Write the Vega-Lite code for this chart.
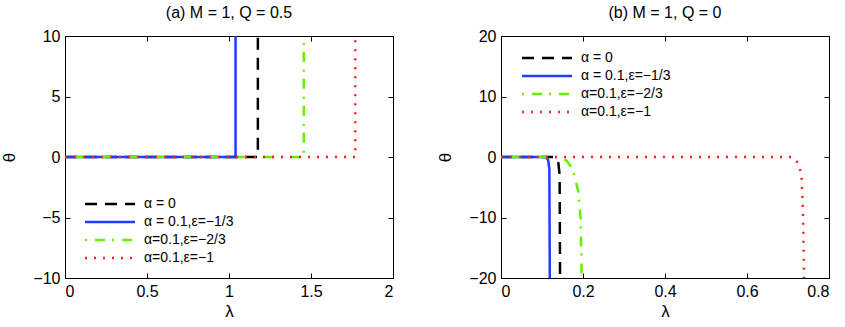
{
  "$schema": "https://vega.github.io/schema/vega-lite/v6.json",
  "padding": {"left": 0, "top": 4, "right": 0, "bottom": 5},
  "config": {
    "font": "Liberation Sans",
    "view": {"stroke": "black", "strokeWidth": 1},
    "axis": {"grid": false, "domain": false, "tickSize": -5, "tickColor": "black", "labelFontSize": 16, "labelColor": "black", "titleFontSize": 17, "titleFontWeight": "normal", "titleColor": "black", "labelFont": "Liberation Sans", "titleFont": "Liberation Sans", "labelPadding": 10, "format": "~r"},
    "title": {"fontSize": 16, "fontWeight": "normal", "font": "Liberation Sans", "color": "black", "offset": 7},
    "legend": {"symbolType": "M-5,0H5", "symbolSize": 100, "symbolStrokeWidth": 2.5, "labelFontSize": 14, "labelFont": "Liberation Sans", "labelColor": "black", "rowPadding": 4, "labelOffset": 27, "title": null}
  },
  "datasets": {
    "a": [
      {"s": "α = 0", "i": 0, "x": 0, "y": 0}, {"s": "α = 0", "i": 1, "x": 1.176, "y": 0}, {"s": "α = 0", "i": 2, "x": 1.176, "y": 10},
      {"s": "α = 0.1,ε=−1/3", "i": 0, "x": 0, "y": 0}, {"s": "α = 0.1,ε=−1/3", "i": 1, "x": 1.04, "y": 0}, {"s": "α = 0.1,ε=−1/3", "i": 2, "x": 1.04, "y": 10},
      {"s": "α=0.1,ε=−2/3", "i": 0, "x": 0, "y": 0}, {"s": "α=0.1,ε=−2/3", "i": 1, "x": 1.456, "y": 0}, {"s": "α=0.1,ε=−2/3", "i": 2, "x": 1.456, "y": 10},
      {"s": "α=0.1,ε=−1", "i": 0, "x": 0, "y": 0}, {"s": "α=0.1,ε=−1", "i": 1, "x": 1.77, "y": 0}, {"s": "α=0.1,ε=−1", "i": 2, "x": 1.77, "y": 10}
    ],
    "b": [
      {"s": "α = 0", "i": 0, "x": 0, "y": 0}, {"s": "α = 0", "i": 1, "x": 0.132, "y": 0}, {"s": "α = 0", "i": 2, "x": 0.14, "y": -1}, {"s": "α = 0", "i": 3, "x": 0.143, "y": -3}, {"s": "α = 0", "i": 4, "x": 0.144, "y": -20},
      {"s": "α = 0.1,ε=−1/3", "i": 0, "x": 0, "y": 0}, {"s": "α = 0.1,ε=−1/3", "i": 1, "x": 0.108, "y": 0}, {"s": "α = 0.1,ε=−1/3", "i": 2, "x": 0.115, "y": -0.5}, {"s": "α = 0.1,ε=−1/3", "i": 3, "x": 0.118, "y": -2}, {"s": "α = 0.1,ε=−1/3", "i": 4, "x": 0.119, "y": -20},
      {"s": "α=0.1,ε=−2/3", "i": 0, "x": 0, "y": 0}, {"s": "α=0.1,ε=−2/3", "i": 1, "x": 0.14, "y": 0}, {"s": "α=0.1,ε=−2/3", "i": 2, "x": 0.16, "y": -0.6}, {"s": "α=0.1,ε=−2/3", "i": 3, "x": 0.175, "y": -2}, {"s": "α=0.1,ε=−2/3", "i": 4, "x": 0.189, "y": -5.8}, {"s": "α=0.1,ε=−2/3", "i": 5, "x": 0.194, "y": -10}, {"s": "α=0.1,ε=−2/3", "i": 6, "x": 0.197, "y": -20},
      {"s": "α=0.1,ε=−1", "i": 0, "x": 0, "y": 0}, {"s": "α=0.1,ε=−1", "i": 1, "x": 0.71, "y": 0}, {"s": "α=0.1,ε=−1", "i": 2, "x": 0.725, "y": -1}, {"s": "α=0.1,ε=−1", "i": 3, "x": 0.733, "y": -3}, {"s": "α=0.1,ε=−1", "i": 4, "x": 0.737, "y": -10}, {"s": "α=0.1,ε=−1", "i": 5, "x": 0.739, "y": -20}
    ]
  },
  "hconcat": [
    {
      "title": "(a) M = 1, Q = 0.5",
      "width": 328, "height": 242,
      "data": {"name": "a"},
      "layer": [
        {
          "mark": {"type": "line", "strokeWidth": 2.5, "clip": true},
          "encoding": {
            "x": {"field": "x", "type": "quantitative", "title": "λ", "scale": {"domain": [0, 2], "nice": false}, "axis": {"values": [0, 0.5, 1, 1.5, 2]}},
            "y": {"field": "y", "type": "quantitative", "title": "θ", "scale": {"domain": [-10, 10], "nice": false}, "axis": {"values": [-10, -5, 0, 5, 10], "titlePadding": 14}},
            "order": {"field": "i"},
            "color": {"field": "s", "type": "nominal", "scale": {"domain": ["α = 0", "α = 0.1,ε=−1/3", "α=0.1,ε=−2/3", "α=0.1,ε=−1"], "range": ["black", "#1f3cff", "#66f000", "#ff2020"]}, "legend": {"orient": "none", "legendX": 38, "legendY": 161}},
            "strokeDash": {"field": "s", "type": "nominal", "scale": {"domain": ["α = 0", "α = 0.1,ε=−1/3", "α=0.1,ε=−2/3", "α=0.1,ε=−1"], "range": [[12, 8], [1, 0], [2, 8, 10, 7], [2, 7]]}, "legend": {"orient": "none", "legendX": 38, "legendY": 161}}
          }
        },
        {
          "mark": {"type": "line", "opacity": 0},
          "encoding": {
            "x": {"field": "x", "type": "quantitative", "axis": {"orient": "top", "values": [0, 0.5, 1, 1.5, 2], "labels": false, "title": null}},
            "y": {"field": "y", "type": "quantitative", "axis": {"orient": "right", "values": [-10, -5, 0, 5, 10], "labels": false, "title": null}},
            "detail": {"field": "s"},
            "order": {"field": "i"}
          }
        }
      ],
      "resolve": {"axis": {"x": "independent", "y": "independent"}}
    },
    {
      "title": "(b) M = 1, Q = 0",
      "width": 328, "height": 242,
      "data": {"name": "b"},
      "layer": [
        {
          "mark": {"type": "line", "strokeWidth": 2.5, "clip": true},
          "encoding": {
            "x": {"field": "x", "type": "quantitative", "title": "λ", "scale": {"domain": [0, 0.8], "nice": false}, "axis": {"values": [0, 0.2, 0.4, 0.6, 0.8]}},
            "y": {"field": "y", "type": "quantitative", "title": "θ", "scale": {"domain": [-20, 20], "nice": false}, "axis": {"values": [-20, -10, 0, 10, 20], "titlePadding": 14}},
            "order": {"field": "i"},
            "color": {"field": "s", "type": "nominal", "scale": {"domain": ["α = 0", "α = 0.1,ε=−1/3", "α=0.1,ε=−2/3", "α=0.1,ε=−1"], "range": ["black", "#1f3cff", "#66f000", "#ff2020"]}, "legend": {"orient": "none", "legendX": 39, "legendY": 15}},
            "strokeDash": {"field": "s", "type": "nominal", "scale": {"domain": ["α = 0", "α = 0.1,ε=−1/3", "α=0.1,ε=−2/3", "α=0.1,ε=−1"], "range": [[12, 8], [1, 0], [2, 8, 10, 7], [2, 7]]}, "legend": {"orient": "none", "legendX": 39, "legendY": 15}}
          }
        },
        {
          "mark": {"type": "line", "opacity": 0},
          "encoding": {
            "x": {"field": "x", "type": "quantitative", "axis": {"orient": "top", "values": [0, 0.2, 0.4, 0.6, 0.8], "labels": false, "title": null}},
            "y": {"field": "y", "type": "quantitative", "axis": {"orient": "right", "values": [-20, -10, 0, 10, 20], "labels": false, "title": null}},
            "detail": {"field": "s"},
            "order": {"field": "i"}
          }
        }
      ],
      "resolve": {"axis": {"x": "independent", "y": "independent"}}
    }
  ],
  "resolve": {"scale": {"color": "independent", "strokeDash": "independent", "x": "independent", "y": "independent"}, "legend": {"color": "independent", "strokeDash": "independent"}},
  "spacing": 42
}
